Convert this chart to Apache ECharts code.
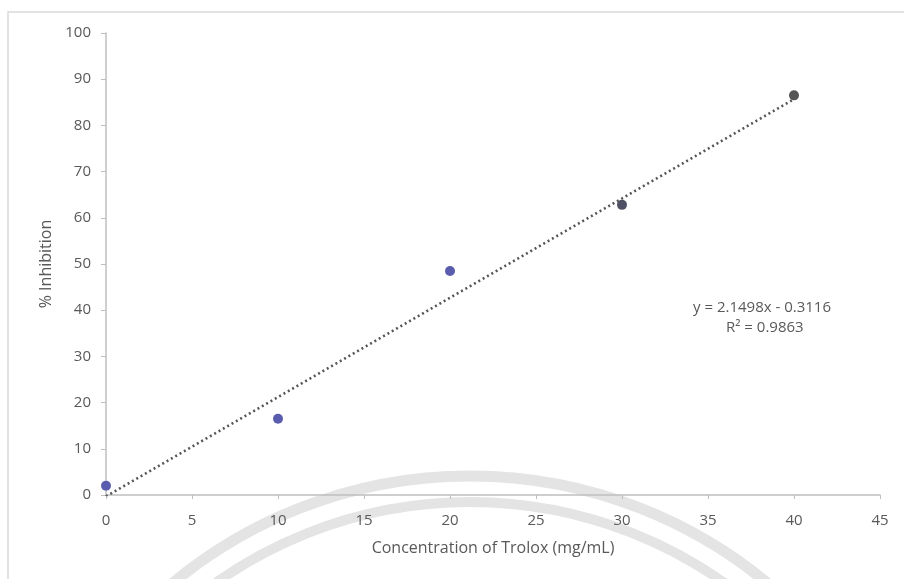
<!DOCTYPE html>
<html><head><meta charset="utf-8">
<script src="https://cdn.jsdelivr.net/npm/echarts@6/dist/echarts.min.js"></script>
<style>html,body{margin:0;padding:0;background:#fff}#c{width:904px;height:579px}</style>
</head><body><div id="c"></div>
<script>
var concentrations = [0, 10, 20, 30, 40];
var inhibition = [2.0, 16.5, 48.5, 62.8, 86.5];
var pointColors = ['#5a5cae', '#5a5cae', '#5a5cae', '#4f5064', '#555555'];
var trendX = [0, 40];
var trendY = [-0.3116, 85.68];
var xTicks = [0, 5, 10, 15, 20, 25, 30, 35, 40, 45];
var yTicks = [0, 10, 20, 30, 40, 50, 60, 70, 80, 90, 100];
var equationLines = ['y = 2.1498x - 0.3116', 'R\u00B2 = 0.9863'];

var font = '"Open Sans", "DejaVu Sans", sans-serif';
var chart = echarts.init(document.getElementById('c'), null, {renderer: 'canvas'});
var grid = {left: 106, right: 24, top: 33, bottom: 84};
chart.setOption({
  animation: false,
  backgroundColor: '#fff',
  grid: grid,
  graphic: [
    {type: 'rect', z: -10, silent: true, shape: {x: 8, y: 12, width: 900, height: 580},
     style: {fill: 'none', stroke: '#d9d9d9', lineWidth: 1.5}},
    {type: 'arc', z: -5, silent: true, shape: {cx: 470, cy: 942, r: 466, startAngle: Math.PI, endAngle: 2 * Math.PI},
     style: {fill: 'none', stroke: '#e4e4e4', lineWidth: 11}},
    {type: 'arc', z: -5, silent: true, shape: {cx: 470, cy: 942, r: 440, startAngle: Math.PI, endAngle: 2 * Math.PI},
     style: {fill: 'none', stroke: '#e4e4e4', lineWidth: 10}},
    {type: 'text', z: 10, left: 693, top: 300,
     style: {text: equationLines[0], font: '15px ' + font, fill: '#595959'}},
    {type: 'text', z: 10, left: 726, top: 320,
     style: {text: equationLines[1], font: '15px ' + font, fill: '#595959'}}
  ],
  xAxis: {
    type: 'value', min: xTicks[0], max: xTicks[xTicks.length - 1], interval: 5,
    name: 'Concentration of Trolox (mg/mL)', nameLocation: 'middle', nameGap: 45,
    nameTextStyle: {fontFamily: font, fontSize: 16, color: '#595959'},
    axisLine: {show: true, lineStyle: {color: '#bfbfbf', width: 1.5}},
    axisTick: {show: true, length: 4, lineStyle: {color: '#bfbfbf'}},
    axisLabel: {fontFamily: font, fontSize: 15, color: '#595959', margin: 18},
    splitLine: {show: false}
  },
  yAxis: {
    type: 'value', min: yTicks[0], max: yTicks[yTicks.length - 1], interval: 10,
    name: '% Inhibition', nameLocation: 'middle', nameGap: 52, nameRotate: 90,
    nameTextStyle: {fontFamily: font, fontSize: 16, color: '#595959'},
    axisLine: {show: true, lineStyle: {color: '#bfbfbf', width: 1.5}},
    axisTick: {show: true, length: 5, lineStyle: {color: '#bfbfbf'}},
    axisLabel: {fontFamily: font, fontSize: 15, color: '#595959', margin: 15},
    splitLine: {show: false}
  },
  series: [
    {
      type: 'line', silent: true, showSymbol: false, symbol: 'none', clip: true, z: 2,
      data: trendX.map(function (x, i) { return [x, trendY[i]]; }),
      lineStyle: {color: '#555555', width: 2.5, type: [2, 3]}
    },
    {
      type: 'scatter', symbol: 'circle', symbolSize: 10, z: 3,
      itemStyle: {opacity: 1},
      data: concentrations.map(function (x, i) {
        return {value: [x, inhibition[i]], itemStyle: {color: pointColors[i], opacity: 1}};
      })
    }
  ]
});
</script></body></html>
